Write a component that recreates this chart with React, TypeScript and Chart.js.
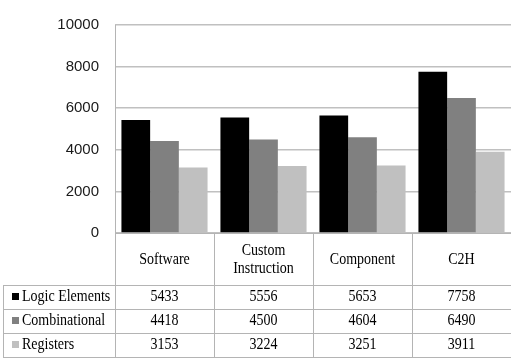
import React, { useEffect, useRef } from "react";
import { Chart, registerables } from "chart.js";

Chart.register(...registerables);

const categories: string[][] = [["Software"], ["Custom", "Instruction"], ["Component"], ["C2H"]];
const seriesNames = ["Logic Elements", "Combinational", "Registers"];
const logicElements = [5433, 5556, 5653, 7758];
const combinational = [4418, 4500, 4604, 6490];
const registers = [3153, 3224, 3251, 3911];
const seriesColors = ["#000000", "#808080", "#c0c0c0"];
const yMin = 0;
const yMax = 10000;
const yStep = 2000;

const LINE = "#b4b4b4";
const SQUISH = 0.875;

function squishText(ctx: CanvasRenderingContext2D, text: string, x: number, y: number, align: CanvasTextAlign) {
  ctx.save();
  ctx.translate(x, y);
  ctx.scale(SQUISH, 1);
  ctx.textAlign = align;
  ctx.textBaseline = "middle";
  ctx.fillText(text, 0, 0);
  ctx.restore();
}

const tablePlugin = {
  id: "dataTable",
  afterDraw(chart: any) {
    const { ctx, chartArea } = chart;
    const left = chartArea.left;
    const right = chartArea.right;
    const top0 = chartArea.bottom;
    const headerBottom = top0 + 52;
    const rowH = 24;
    const n = categories.length;
    const colW = (right - left) / n;
    const tableLeft = 3;
    const bottom = chart.height;
    const series = [logicElements, combinational, registers];

    ctx.save();
    ctx.strokeStyle = LINE;
    ctx.lineWidth = 1;
    ctx.beginPath();
    ctx.moveTo(left, top0 + 0.5);
    ctx.lineTo(right, top0 + 0.5);
    for (let r = 0; r <= series.length; r++) {
      const y = Math.round(headerBottom + r * rowH) + 0.5;
      if (y > bottom) break;
      ctx.moveTo(tableLeft, y);
      ctx.lineTo(right, y);
    }
    ctx.moveTo(tableLeft + 0.5, headerBottom);
    ctx.lineTo(tableLeft + 0.5, bottom);
    ctx.moveTo(Math.round(left) + 0.5, chartArea.top);
    ctx.lineTo(Math.round(left) + 0.5, bottom);
    for (let i = 1; i < n; i++) {
      const x = Math.round(left + i * colW) + 0.5;
      ctx.moveTo(x, top0);
      ctx.lineTo(x, bottom);
    }
    ctx.stroke();

    ctx.fillStyle = "#000000";
    ctx.font = "16px 'Liberation Serif', serif";
    const hMid = (top0 + headerBottom) / 2 + 1;
    categories.forEach((lines, i) => {
      const cx = left + (i + 0.5) * colW;
      const lh = 18;
      lines.forEach((t, k) => {
        const y = hMid + (k - (lines.length - 1) / 2) * lh;
        squishText(ctx, t, cx, y, "center");
      });
    });
    series.forEach((vals, r) => {
      const cy = headerBottom + (r + 0.5) * rowH;
      ctx.fillStyle = seriesColors[r];
      ctx.fillRect(tableLeft + 9, cy - 4, 7, 7);
      ctx.fillStyle = "#000000";
      squishText(ctx, seriesNames[r], tableLeft + 19, cy, "left");
      vals.forEach((v, i) => {
        const cx = left + (i + 0.5) * colW;
        squishText(ctx, String(v), cx, cy, "center");
      });
    });
    ctx.restore();
  },
};

export default function App() {
  const ref = useRef<HTMLCanvasElement | null>(null);
  useEffect(() => {
    if (!ref.current) return;
    const chart = new Chart(ref.current, {
      type: "bar",
      data: {
        labels: categories,
        datasets: [logicElements, combinational, registers].map((d, i) => ({
          label: seriesNames[i],
          data: d,
          backgroundColor: seriesColors[i],
          borderWidth: 0,
          categoryPercentage: 0.87,
          barPercentage: 1.0,
        })),
      },
      options: {
        animation: false,
        responsive: false,
        layout: { padding: { top: 16, right: 0, bottom: 125, left: 0 } },
        plugins: { legend: { display: false }, tooltip: { enabled: false } },
        scales: {
          x: { display: false },
          y: {
            min: yMin,
            max: yMax,
            ticks: {
              stepSize: yStep,
              padding: 16,
              color: "#1a1a1a",
              font: { family: "'Liberation Sans', sans-serif", size: 15 },
              callback: (v: any) => String(v),
            },
            grid: { color: "#c0c0c0", lineWidth: 1.5, drawTicks: false },
            border: { display: false },
            afterFit: (s: any) => {
              s.width = 115;
            },
          },
        },
      },
      plugins: [tablePlugin],
    });
    return () => chart.destroy();
  }, []);
  return (
    <div style={{ position: "absolute", left: 0, top: 0, width: 511, height: 358, background: "#fff" }}>
      <canvas ref={ref} width={511} height={358} />
    </div>
  );
}
